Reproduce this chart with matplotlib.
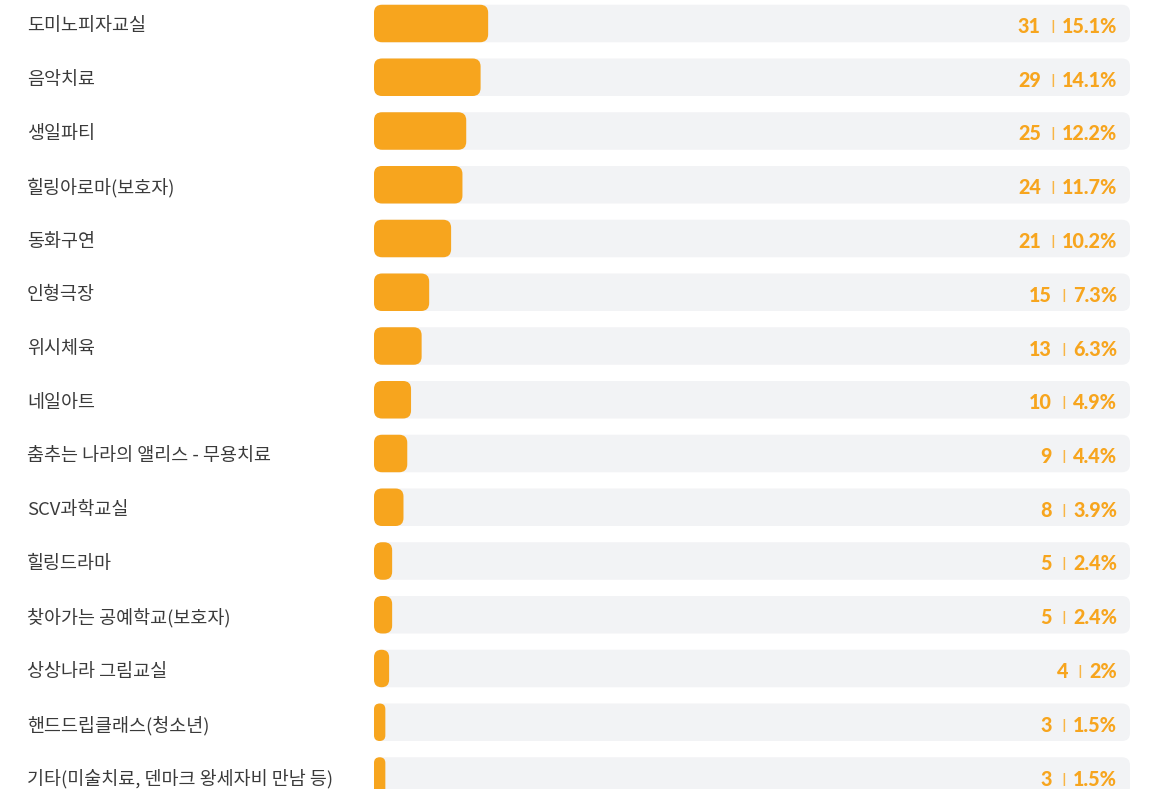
import matplotlib.pyplot as plt
from matplotlib.patches import FancyBboxPatch
from matplotlib.transforms import blended_transform_factory

plt.rcParams['font.family'] = ['Noto Sans CJK KR', 'DejaVu Sans']

labels = ['도미노피자교실', '음악치료', '생일파티', '힐링아로마(보호자)', '동화구연',
          '인형극장', '위시체육', '네일아트', '춤추는 나라의 앨리스 - 무용치료',
          'SCV과학교실', '힐링드라마', '찾아가는 공예학교(보호자)', '상상나라 그림교실',
          '핸드드립클래스(청소년)', '기타(미술치료, 덴마크 왕세자비 만남 등)']
counts = [31, 29, 25, 24, 21, 15, 13, 10, 9, 8, 5, 5, 4, 3, 3]
pcts = [15.1, 14.1, 12.2, 11.7, 10.2, 7.3, 6.3, 4.9, 4.4, 3.9, 2.4, 2.4, 2, 1.5, 1.5]

W, H = 1150, 789
fig = plt.figure(figsize=(W / 100, H / 100), dpi=100)
x0, x1 = 374, 1130
ax = fig.add_axes([x0 / W, 0, (x1 - x0) / W, 1])
row_px = 53.75
top_c = 23.5
ax.set_xlim(0, 100)
ax.set_ylim((H - top_c) / row_px, -top_c / row_px)
ax.axis('off')

px_x = (x1 - x0) / 100.0          # pixels per x unit
asp = px_x / row_px               # x units -> y units for same pixels
bar_h = 37.5 / row_px
rad_px = 8

orange = '#F7A51E'
track = '#F2F3F5'

for i, (lab, c, p) in enumerate(zip(labels, counts, pcts)):
    yb = i - bar_h / 2
    ax.add_patch(FancyBboxPatch((0, yb), 100, bar_h,
                                boxstyle=f"round,pad=0,rounding_size={rad_px / px_x}",
                                mutation_aspect=asp, fc=track, ec='none'))
    w = p
    r = min(rad_px, w * px_x / 2) / px_x
    ax.add_patch(FancyBboxPatch((0, yb), w, bar_h,
                                boxstyle=f"round,pad=0,rounding_size={r}",
                                mutation_aspect=asp, fc=orange, ec='none'))

tr = blended_transform_factory(fig.transFigure, ax.transData)
dy = 3 / row_px
for i, (lab, c, p) in enumerate(zip(labels, counts, pcts)):
    ax.text(27 / W, i + dy, lab, transform=tr, ha='left', va='center',
            fontsize=13.3, color='#3a3a3a')
    pt = ax.text(1117 / W, i + dy, f'{p:g}%', transform=tr, ha='right', va='center',
                 fontsize=14.2, color=orange, fontweight='black', family=['Lato', 'DejaVu Sans'])
    ax.annotate('|', xy=(0, 0.5), xycoords=pt, xytext=(-6.5, 0),
                textcoords='offset points', ha='center', va='center',
                fontsize=9.5, color='#F8B545', fontweight='bold', family=['DejaVu Sans'])
    ax.annotate(str(c), xy=(0, 0.5), xycoords=pt, xytext=(-15, 0),
                textcoords='offset points', ha='right', va='center',
                fontsize=14.2, color=orange, fontweight='black', family=['Lato', 'DejaVu Sans'])

fig.savefig('out.png', dpi=100)
